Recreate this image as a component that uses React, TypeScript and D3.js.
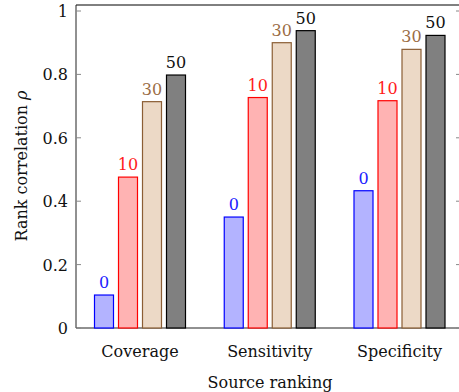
import React from "react";
import * as d3 from "d3";

const categories = ["Coverage", "Sensitivity", "Specificity"];
const seriesNames = ["0", "10", "30", "50"];
const values0 = [0.104, 0.35, 0.433];
const values10 = [0.476, 0.727, 0.717];
const values30 = [0.714, 0.9, 0.879];
const values50 = [0.798, 0.938, 0.923];
const yTicks = [0, 0.2, 0.4, 0.6, 0.8, 1];
const yTickLabels = ["0", "0.2", "0.4", "0.6", "0.8", "1"];

const seriesValues = [values0, values10, values30, values50];
const fills = ["#b3b3ff", "#ffb3b3", "#ecd9c6", "#808080"];
const strokes = ["#0000ff", "#ff0000", "#8b5e34", "#000000"];
const labelColors = ["#2020ff", "#ff1a1a", "#9a6c45", "#111111"];

export default function App() {
  const W = 459, H = 392;
  const left = 76, right = 462, top = 5, bottom = 328;
  const y = d3.scaleLinear().domain([0, 1]).range([328, 11]);
  const x = d3.scalePoint<string>().domain(categories).range([140, 399.5]);
  const inner = d3.scaleBand<string>().domain(seriesNames).range([-48, 48]).paddingInner(1 / 6).paddingOuter(1 / 12);
  const font = "'DejaVu Serif'";
  const fs = 16;
  return (
    <svg width={W} height={H} style={{ position: "absolute", left: 0, top: 0, background: "#fff", fontFamily: font }}>
      <line x1={left} x2={right} y1={top} y2={top} stroke="#000" strokeWidth={1} />
      <line x1={left} x2={right} y1={bottom} y2={bottom} stroke="#222" strokeWidth={1} />
      <line x1={left} x2={left} y1={top} y2={bottom} stroke="#222" strokeWidth={1} />
      <line x1={right} x2={right} y1={top} y2={bottom} stroke="#222" strokeWidth={1} />
      {yTicks.map((t, i) => (
        <g key={i}>
          <line x1={left} x2={left + 5} y1={y(t)} y2={y(t)} stroke="#888" strokeWidth={1} />
          <line x1={right - 6} x2={right} y1={y(t)} y2={y(t)} stroke="#888" strokeWidth={1} />
          <text x={68} y={y(t) + 6} textAnchor="end" fontSize={fs} fill="#111">{yTickLabels[i]}</text>
        </g>
      ))}
      {categories.map((c, ci) => (
        <g key={c}>
          {seriesNames.map((s, si) => {
            const v = seriesValues[si][ci];
            const bx = (x(c) as number) + (inner(s) as number);
            const bw = inner.bandwidth();
            return (
              <g key={s}>
                <rect x={bx + 0.5} y={y(v)} width={bw - 1} height={y(0) - y(v)} fill={fills[si]} stroke={strokes[si]} strokeWidth={1.2} />
                <text x={bx + bw / 2} y={y(v) - 7} textAnchor="middle" fontSize={fs} fill={labelColors[si]}>{s}</text>
              </g>
            );
          })}
          <text x={x(c) as number} y={357} textAnchor="middle" fontSize={fs} fill="#111">{c}</text>
        </g>
      ))}
      <text x={270} y={388} textAnchor="middle" fontSize={fs} fill="#111">Source ranking</text>
      <text transform={`translate(27,166) rotate(-90)`} textAnchor="middle" fontSize={fs} fill="#111">
        Rank correlation <tspan fontStyle="italic">ρ</tspan>
      </text>
    </svg>
  );
}
